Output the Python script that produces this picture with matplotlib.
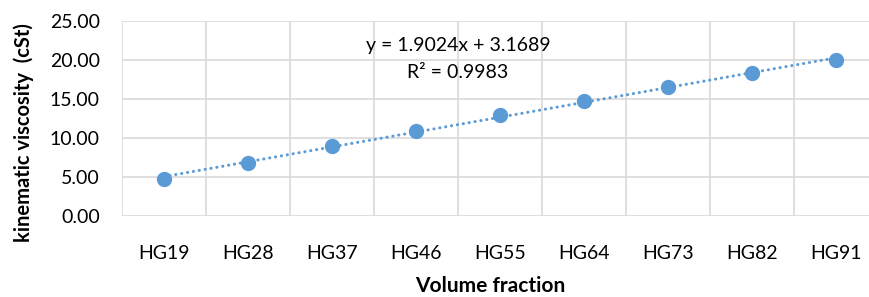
import numpy as np
from matplotlib import pyplot as plt

plt.rc('font', family=['Lato', 'DejaVu Sans'], size=14)

samples = ['HG19', 'HG28', 'HG37', 'HG46', 'HG55', 'HG64', 'HG73', 'HG82', 'HG91']
viscosity = [4.75, 6.85, 8.95, 10.95, 12.95, 14.75, 16.5, 18.3, 20.0]
eq_text = 'y = 1.9024x + 3.1689'
r2_text = 'R² = 0.9983'

blue = '#5B9BD5'
grid = '#D9D9D9'

W, H = 869, 297
fig = plt.figure(figsize=(W / 100, H / 100), dpi=100)
ax = fig.add_axes([122 / W, 1 - 216 / H, (878 - 122) / W, (216 - 21) / H])

x = np.arange(len(samples))
# linear trendline (excel numbers x from 1)
coef = np.polyfit(x + 1, viscosity, 1)
ax.plot(x, np.polyval(coef, x + 1), color=blue, lw=2.2,
        linestyle=(0, (0.05, 1.9)), dash_capstyle='round', zorder=2)
ax.plot(x, viscosity, 'o', color=blue, ms=10, zorder=3)

ax.set_xlim(-0.5, len(samples) - 0.5)
ax.set_ylim(0, 25)
ax.set_yticks(np.arange(0, 26, 5))
ax.set_yticklabels([f'{v:.2f}' for v in np.arange(0, 26, 5)])
ax.set_xticks(x)
ax.set_xticklabels(samples)
ax.set_xticks(np.arange(-0.5, len(samples), 1), minor=True)
ax.tick_params(axis='both', which='both', length=0, colors='#000000')
ax.tick_params(axis='y', pad=16)
ax.tick_params(axis='x', pad=21)
ax.grid(axis='y', which='major', color=grid, lw=1.2)
ax.grid(axis='x', which='minor', color=grid, lw=1.2)
ax.set_axisbelow(True)
for s in ax.spines.values():
    s.set_visible(False)

aw, ah = 878 - 122, 216 - 21
ax.set_ylabel('kinematic viscosity  (cSt)', fontweight='bold', fontsize=14.5)
ax.yaxis.set_label_coords(-(122 - 34) / aw, (216 - 133) / ah)
ax.set_xlabel('Volume fraction', fontweight='bold', fontsize=15)
ax.xaxis.set_label_coords((490 - 122) / aw, -(276 - 216) / ah)

# trendline label sits in axes fraction so it can go above the data
ax.text((458 - 122) / aw, (216 - 45) / ah, eq_text, ha='center', va='center',
        fontsize=14, transform=ax.transAxes)
ax.text((458 - 122) / aw, (216 - 72) / ah, r2_text, ha='center', va='center',
        fontsize=14, transform=ax.transAxes)

fig.savefig('out.png', dpi=100)
